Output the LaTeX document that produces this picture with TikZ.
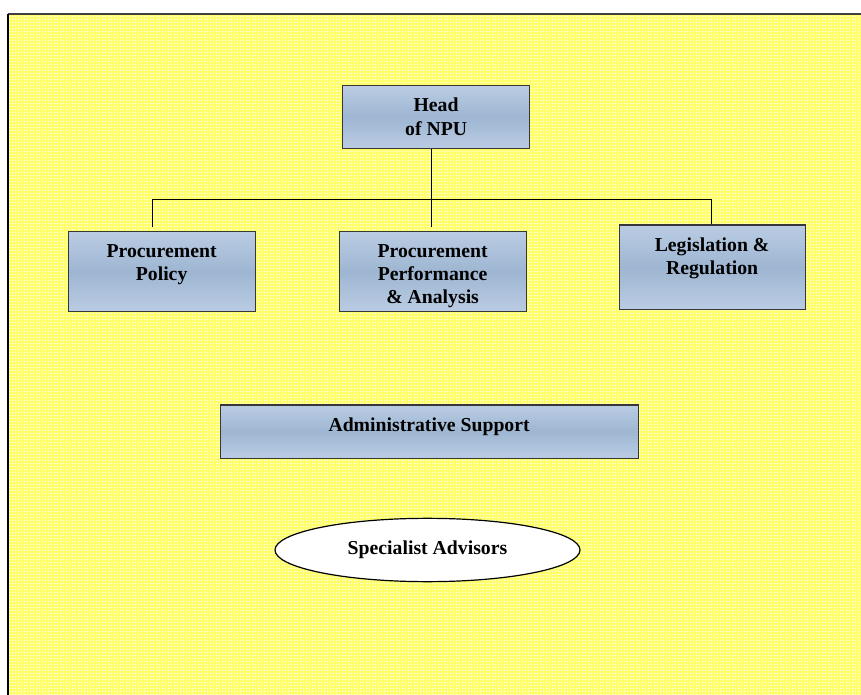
\documentclass[tikz,border=0pt]{standalone}
\usepackage{fontspec}
\setmainfont{Liberation Serif}
\usetikzlibrary{shapes.geometric,patterns.meta}
\definecolor{paper}{RGB}{255,255,105}
\definecolor{boxlight}{RGB}{186,204,227}
\definecolor{boxdeep}{RGB}{158,182,210}
\definecolor{boxedge}{RGB}{55,55,55}
% small white dot grid laid over the yellow sheet
\pgfdeclarepattern{name=sheetdots, type=uncolored,
  bottom left={\pgfpoint{0pt}{0pt}}, top right={\pgfpoint{2.25pt}{2.25pt}},
  tile size={\pgfpoint{2.25pt}{2.25pt}},
  code={\pgfpathrectangle{\pgfpoint{0pt}{0pt}}{\pgfpoint{1.1pt}{1.1pt}}\pgfusepath{fill}}}
\begin{document}
\begin{tikzpicture}[x=0.75pt,y=-0.75pt,
  unit/.style={draw=boxedge, line width=0.9pt, top color=boxlight,
    bottom color=boxlight, middle color=boxdeep, inner sep=0pt,
    anchor=north west},
  caption/.style={font=\bfseries\fontsize{14.8}{17.5}\selectfont,
    align=center, anchor=north, inner sep=0pt, yshift=-9.75pt},
  link/.style={line width=0.75pt, black}]
\useasboundingbox (0,0) rectangle (861,695);

% dotted yellow sheet with its top and left edges
\fill[paper] (8,14) rectangle (861,695);
\fill[pattern=sheetdots, pattern color=white] (8,14) rectangle (861,695);
\draw[line width=1.5pt, black!75] (8,14) -- (861,14);
\draw[line width=1.5pt, black] (8,14) -- (8,695);

% units
\node[unit, minimum width=140.25pt, minimum height=47.25pt,
  label={[caption]north:Head\\of NPU}] (head) at (342,85) {};
\node[unit, minimum width=140.25pt, minimum height=60pt,
  label={[caption]north:Procurement\\Policy}] (policy) at (67.5,231) {};
\node[unit, minimum width=140.25pt, minimum height=60pt,
  label={[caption]north:Procurement\\Performance\\\& Analysis}] (perf) at (338.5,231) {};
\node[unit, minimum width=139.5pt, minimum height=63.5pt,
  label={[caption]north:Legislation \&\\Regulation}] (legis) at (618.5,224.5) {};
\node[unit, minimum width=313.5pt, minimum height=39.75pt,
  label={[caption]north:Administrative Support}] (admin) at (219.5,404.5) {};
\node[ellipse, draw=black, line width=0.9pt, fill=white, inner sep=0pt,
  minimum width=228.75pt, minimum height=47.5pt,
  font=\bfseries\fontsize{14.8}{17.5}\selectfont] (advisors) at (427.5,550)
  {\raisebox{3.5pt}{Specialist Advisors}};

% reporting lines
\coordinate (busL) at (152,200);
\coordinate (busM) at (431.7,200);
\coordinate (busR) at (711,200);
\draw[link] (head.south -| busM) -- (busM) -- ([yshift=3pt]busM |- perf.north);
\draw[link] ([yshift=3pt]busL |- policy.north) -- (busL) -- (busR) -- (busR |- legis.north);
\end{tikzpicture}
\end{document}
